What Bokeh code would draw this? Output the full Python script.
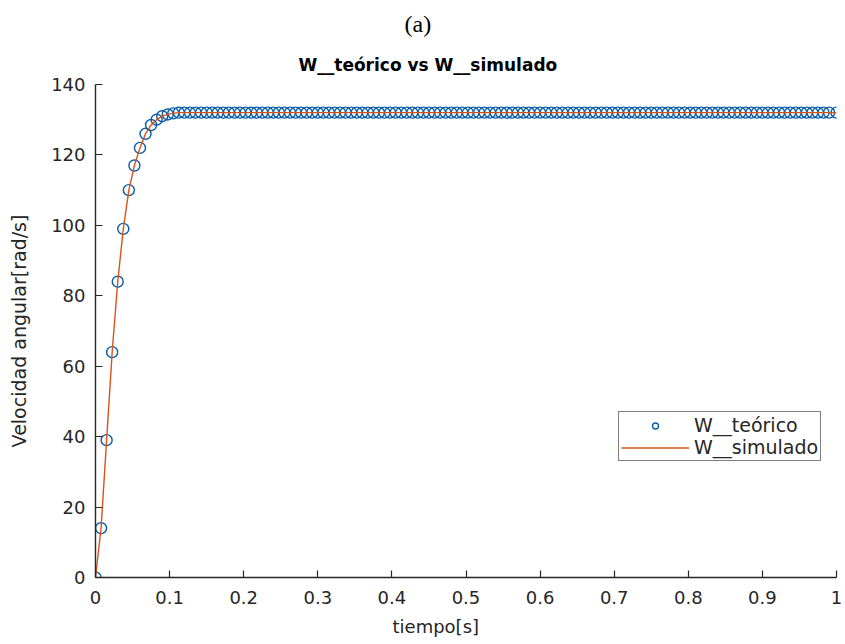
from bokeh.plotting import figure
from bokeh.models import Title, Legend, LegendItem, FixedTicker, Range1d
from bokeh.embed import file_html
from bokeh.resources import INLINE

# sample times [s]
tiempo = [
    0, 0.0075, 0.015, 0.0225, 0.03, 0.0375, 0.045, 0.0525,
    0.06, 0.0675, 0.075, 0.0825, 0.09, 0.0975, 0.105, 0.1125,
    0.12, 0.1275, 0.135, 0.1425, 0.15, 0.1575, 0.165, 0.1725,
    0.18, 0.1875, 0.195, 0.2025, 0.21, 0.2175, 0.225, 0.2325,
    0.24, 0.2475, 0.255, 0.2625, 0.27, 0.2775, 0.285, 0.2925,
    0.30, 0.3075, 0.315, 0.3225, 0.33, 0.3375, 0.345, 0.3525,
    0.36, 0.3675, 0.375, 0.3825, 0.39, 0.3975, 0.405, 0.4125,
    0.42, 0.4275, 0.435, 0.4425, 0.45, 0.4575, 0.465, 0.4725,
    0.48, 0.4875, 0.495, 0.5025, 0.51, 0.5175, 0.525, 0.5325,
    0.54, 0.5475, 0.555, 0.5625, 0.57, 0.5775, 0.585, 0.5925,
    0.60, 0.6075, 0.615, 0.6225, 0.63, 0.6375, 0.645, 0.6525,
    0.66, 0.6675, 0.675, 0.6825, 0.69, 0.6975, 0.705, 0.7125,
    0.72, 0.7275, 0.735, 0.7425, 0.75, 0.7575, 0.765, 0.7725,
    0.78, 0.7875, 0.795, 0.8025, 0.81, 0.8175, 0.825, 0.8325,
    0.84, 0.8475, 0.855, 0.8625, 0.87, 0.8775, 0.885, 0.8925,
    0.90, 0.9075, 0.915, 0.9225, 0.93, 0.9375, 0.945, 0.9525,
    0.96, 0.9675, 0.975, 0.9825, 0.99, 1.0,
]

# angular speed [rad/s]
w_teorico = [
    0, 14, 39, 64, 84, 99, 110, 117,
    122, 126, 128.5, 130, 131, 131.5, 131.8, 132,
    132, 132, 132, 132, 132, 132, 132, 132,
    132, 132, 132, 132, 132, 132, 132, 132,
    132, 132, 132, 132, 132, 132, 132, 132,
    132, 132, 132, 132, 132, 132, 132, 132,
    132, 132, 132, 132, 132, 132, 132, 132,
    132, 132, 132, 132, 132, 132, 132, 132,
    132, 132, 132, 132, 132, 132, 132, 132,
    132, 132, 132, 132, 132, 132, 132, 132,
    132, 132, 132, 132, 132, 132, 132, 132,
    132, 132, 132, 132, 132, 132, 132, 132,
    132, 132, 132, 132, 132, 132, 132, 132,
    132, 132, 132, 132, 132, 132, 132, 132,
    132, 132, 132, 132, 132, 132, 132, 132,
    132, 132, 132, 132, 132, 132, 132, 132,
    132, 132, 132, 132, 132, 132,
]
w_simulado = list(w_teorico)

x_ticks = [0, 0.1, 0.2, 0.3, 0.4, 0.5, 0.6, 0.7, 0.8, 0.9, 1]
x_tick_labels = ["0", "0.1", "0.2", "0.3", "0.4", "0.5", "0.6", "0.7", "0.8", "0.9", "1"]
y_ticks = [0, 20, 40, 60, 80, 100, 120, 140]

FONT = "DejaVu Sans"
TXT = "#262626"

p = figure(width=845, height=644, x_range=Range1d(0, 1), y_range=Range1d(0, 140),
           output_backend="svg", toolbar_location=None,
           min_border_left=95, min_border_right=9, min_border_top=84, min_border_bottom=67)

# outermost title: "(a)"
p.title = Title(text="(a)", align="left", offset=309, text_font="Liberation Serif",
                text_font_size="24px", text_font_style="normal",
                text_color="#000000", standoff=12)
# chart title, closest to the frame
p.add_layout(Title(text="W__teórico vs W__simulado", align="left", offset=203,
                   text_font=FONT, text_font_size="17px", text_font_style="bold",
                   text_color="#000000", standoff=20), "above")
p.add_layout(Title(text="tiempo[s]", align="left", offset=297, text_font=FONT,
                   text_font_size="18px", text_font_style="normal",
                   text_color=TXT, standoff=15, text_line_height=0.7), "below")

p.outline_line_color = None
p.background_fill_color = "white"
p.border_fill_color = "white"
p.xgrid.visible = False
p.ygrid.visible = False

for ax in (p.xaxis[0], p.yaxis[0]):
    ax.axis_line_color = TXT
    ax.axis_line_width = 1.4
    ax.major_tick_line_color = TXT
    ax.major_tick_line_width = 1.2
    ax.major_tick_in = 7
    ax.major_tick_out = 0
    ax.minor_tick_line_color = None
    ax.major_label_text_font = FONT
    ax.major_label_text_font_size = "18px"
    ax.major_label_text_color = TXT
    ax.major_label_standoff = 10
p.xaxis[0].major_label_standoff = 13

p.xaxis[0].ticker = FixedTicker(ticks=x_ticks)
p.xaxis[0].major_label_overrides = {t: l for t, l in zip(x_ticks, x_tick_labels)}
p.yaxis[0].ticker = FixedTicker(ticks=y_ticks)
p.yaxis[0].axis_label = "Velocidad angular[rad/s]"
p.yaxis[0].axis_label_text_font = FONT
p.yaxis[0].axis_label_text_font_size = "19px"
p.yaxis[0].axis_label_text_font_style = "normal"
p.yaxis[0].axis_label_text_color = TXT
p.yaxis[0].axis_label_standoff = 18

r_sim = p.line(tiempo, w_simulado, line_color="#D95319", line_width=1.4)
r_teo = p.scatter(tiempo, w_teorico, marker="circle", size=11, fill_color=None,
                  line_color="#0a5ea8", line_width=1.4)
# draw the line on top of the circles like the reference
p.renderers.remove(r_sim)
p.renderers.append(r_sim)

legend = Legend(items=[LegendItem(label="W__teórico", renderers=[r_teo]),
                       LegendItem(label="W__simulado", renderers=[r_sim])],
                location=(523, 116), padding=2, spacing=0, margin=0,
                glyph_width=68, glyph_height=15, label_height=15, label_standoff=5,
                label_text_font=FONT, label_text_font_size="19px", label_text_color=TXT,
                label_text_line_height=0.75,
                border_line_color="#000000", border_line_width=1.2,
                background_fill_color="white", background_fill_alpha=1.0)
p.add_layout(legend)

open("out.html", "w").write(file_html(p, INLINE))
